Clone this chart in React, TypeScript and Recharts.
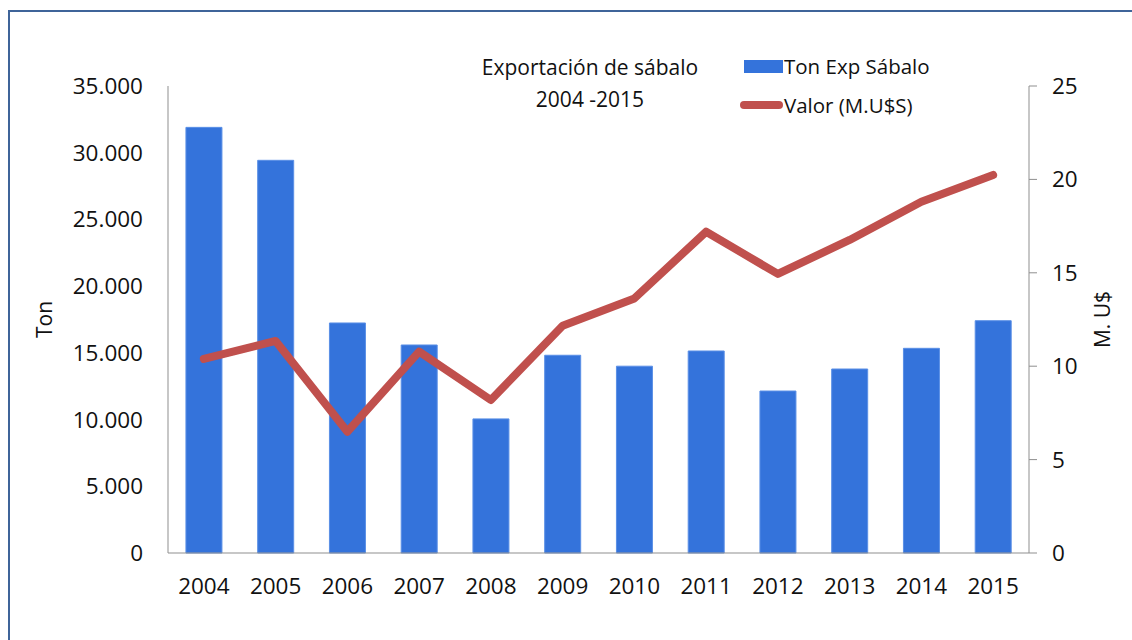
import React from "react";
import { ComposedChart, Bar, Line, XAxis, YAxis } from "recharts";

const years = ["2004", "2005", "2006", "2007", "2008", "2009", "2010", "2011", "2012", "2013", "2014", "2015"];
const tonExp = [31900, 29430, 17240, 15590, 10050, 14820, 14000, 15140, 12140, 13790, 15340, 17410];
const valorMUS = [10.39, 11.35, 6.49, 10.78, 8.19, 12.17, 13.63, 17.2, 14.94, 16.76, 18.8, 20.24];
const tonTicks = [0, 5000, 10000, 15000, 20000, 25000, 30000, 35000];
const valorTicks = [0, 5, 10, 15, 20, 25];

const data = years.map((year, i) => ({ year, ton: tonExp[i], valor: valorMUS[i] }));

const FONT = "'Open Sans', sans-serif";
const AXIS = "#8f8f8f";
const BLUE = "#3473db";
const RED = "#c0504d";

const fmtTon = (v: number) => String(v).replace(/\B(?=(\d{3})+(?!\d))/g, ".");

// legend drawn as plain html so it does not push the plot area down
function ChartLegend() {
  return (
    <div
      style={{
        position: "absolute", left: 740, top: 54, width: 240,
        fontFamily: FONT, fontSize: 20.5, color: "#111", lineHeight: 1,
      }}
    >
      <div style={{ display: "flex", alignItems: "center", height: 24 }}>
        <span style={{ display: "inline-block", width: 39, height: 13, background: BLUE, marginLeft: 4 }} />
        <span style={{ marginLeft: 1 }}>Ton Exp Sábalo</span>
      </div>
      <div style={{ display: "flex", alignItems: "center", height: 24, marginTop: 15 }}>
        <span style={{ display: "inline-block", width: 43, height: 8, borderRadius: 4, background: RED }} />
        <span style={{ marginLeft: 1 }}>Valor (M.U$S)</span>
      </div>
    </div>
  );
}

export default function App() {
  return (
    <div style={{ position: "absolute", left: 0, top: 0, width: 1132, height: 640, overflow: "hidden", background: "#fff" }}>
      <div style={{ position: "absolute", left: 8, top: 10, width: 1200, height: 800, border: "2px solid #3f6499" }} />
      <div
        style={{
          position: "absolute", left: 440, top: 51, width: 300, textAlign: "center",
          fontFamily: FONT, fontSize: 21, lineHeight: "32px", color: "#111",
        }}
      >
        Exportación de sábalo
        <br />
        2004 -2015
      </div>
      <ChartLegend />
      <ComposedChart
        width={1132}
        height={640}
        data={data}
        margin={{ top: 86, right: 0, bottom: 27, left: 0 }}
        barCategoryGap="25%"
        style={{ position: "absolute", left: 0, top: 0, fontFamily: FONT }}
      >
        <XAxis
          dataKey="year"
          height={60}
          axisLine={{ stroke: AXIS }}
          tickLine={false}
          tickSize={0}
          tickMargin={25}
          tick={{ fill: "#111", fontSize: 22.5 }}
          interval={0}
        />
        <YAxis
          yAxisId="left"
          width={168}
          domain={[0, 35000]}
          ticks={tonTicks}
          tickFormatter={fmtTon}
          axisLine={{ stroke: AXIS }}
          tickLine={false}
          tickSize={0}
          tickMargin={25}
          tick={{ fill: "#111", fontSize: 22.5 }}
          label={{ value: "Ton", angle: -90, position: "insideLeft", offset: 45, style: { textAnchor: "middle", fill: "#111", fontSize: 21 } }}
        />
        <YAxis
          yAxisId="right"
          orientation="right"
          width={103}
          domain={[0, 25]}
          ticks={valorTicks}
          axisLine={{ stroke: AXIS }}
          tickLine={{ stroke: AXIS }}
          tickSize={8}
          tickMargin={15}
          tick={{ fill: "#111", fontSize: 22.5 }}
          label={{ value: "M. U$", angle: -90, position: "insideRight", offset: 29, style: { textAnchor: "middle", fill: "#111", fontSize: 21 } }}
        />
        <Bar yAxisId="left" dataKey="ton" name="Ton Exp Sábalo" fill={BLUE} stroke="#5a8fe6" strokeWidth={1} isAnimationActive={false} />
        <Line
          yAxisId="right"
          dataKey="valor"
          name="Valor (M.U$S)"
          stroke={RED}
          strokeWidth={8}
          strokeLinecap="round"
          strokeLinejoin="round"
          dot={false}
          activeDot={false}
          type="linear"
          isAnimationActive={false}
        />
      </ComposedChart>
    </div>
  );
}
